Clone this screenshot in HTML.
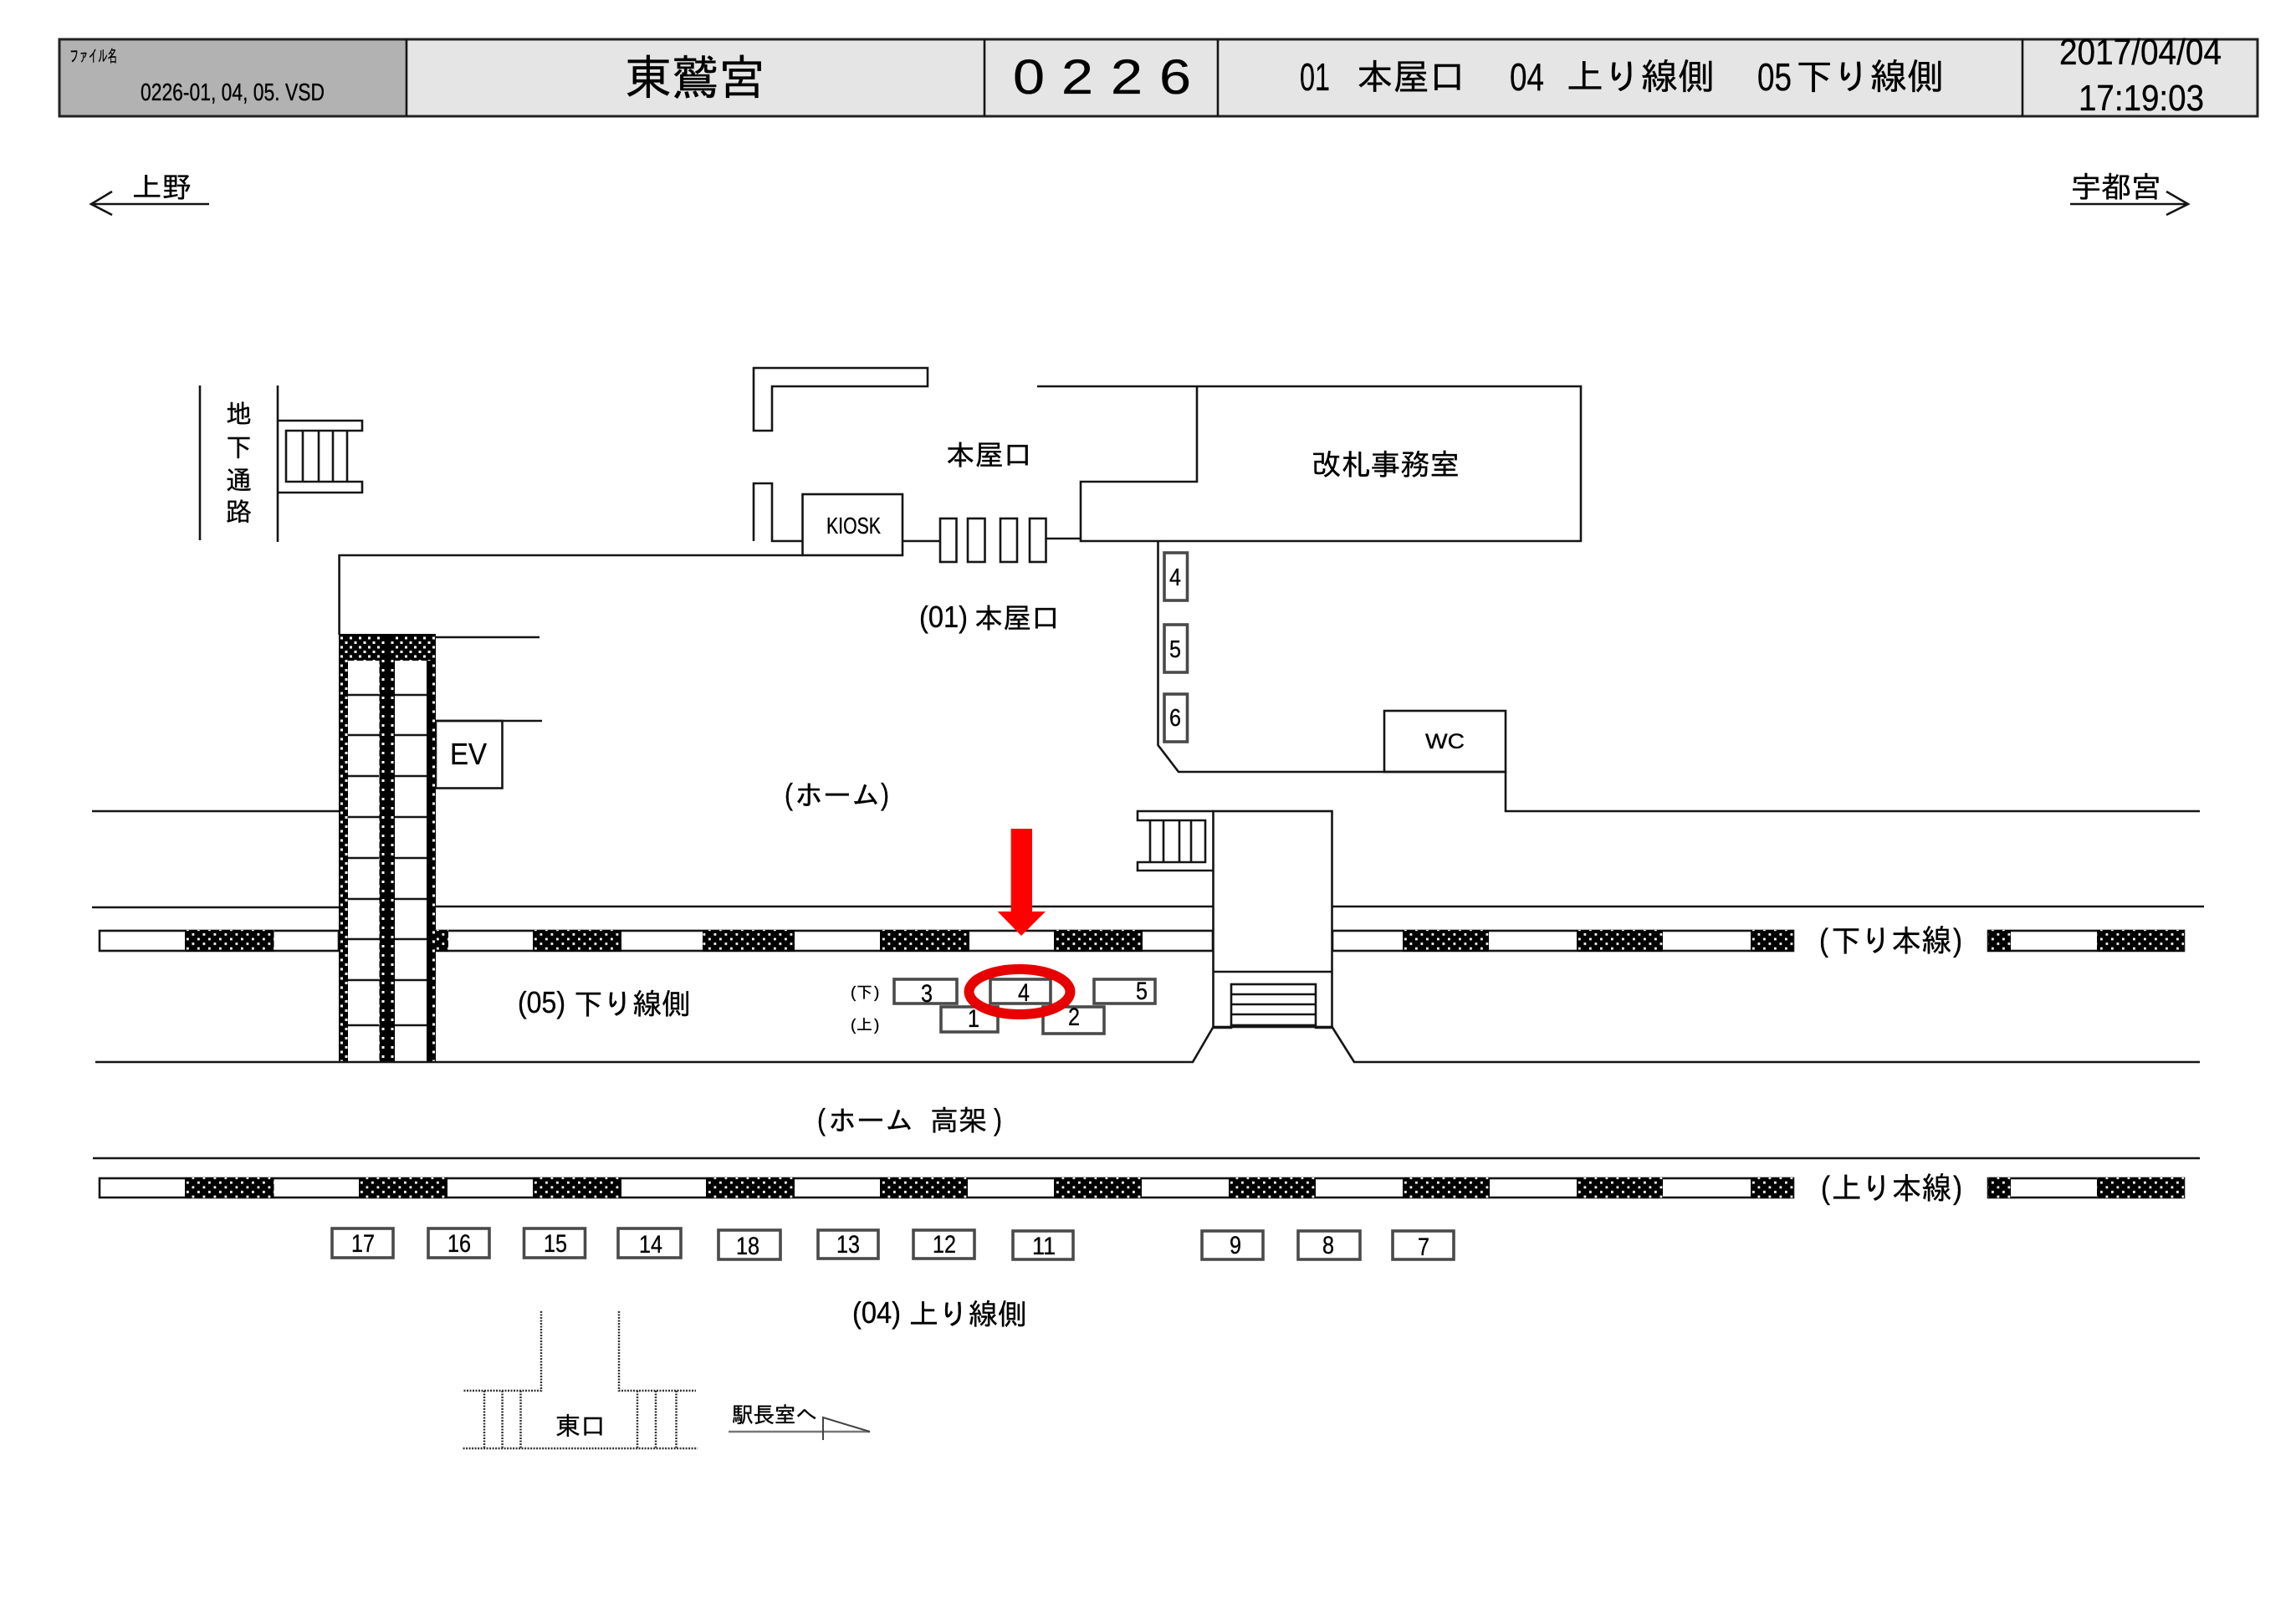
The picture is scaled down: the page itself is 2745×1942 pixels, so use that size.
<!DOCTYPE html>
<html lang="ja"><head><meta charset="utf-8"><title>東鷲宮</title>
<style>
html,body{margin:0;padding:0;background:#fff}
svg{display:block}
text{font-family:"Liberation Sans","IPAGothic","Noto Sans CJK JP",sans-serif;fill:#000;stroke:#000;stroke-width:.35}
.j{font-family:"IPAGothic","Noto Sans CJK JP",sans-serif}
.l{stroke:#151515;stroke-width:2.6;fill:none}
.b{stroke:#4a4a4a;stroke-width:3.6;fill:#fff}
.d{stroke:#333;stroke-width:2.5;stroke-dasharray:2 1.5;fill:none}
</style></head><body>
<svg xmlns="http://www.w3.org/2000/svg" width="2745" height="1942" viewBox="0 0 2745 1942">
<defs>
<pattern id="h" patternUnits="userSpaceOnUse" width="13" height="11.2"><rect width="13" height="11.2" fill="#000"/><rect x="2" y="1.6" width="2.8" height="2.8" fill="#fff"/><rect x="8.5" y="7.2" width="2.8" height="2.8" fill="#fff"/></pattern>
<pattern id="e" patternUnits="userSpaceOnUse" width="11" height="11" x="405" y="760"><rect width="11" height="11" fill="#000"/><rect x="2" y="1.5" width="3" height="3" fill="#fff"/><rect x="7.5" y="7" width="3" height="3" fill="#fff"/></pattern>
</defs>
<rect width="2745" height="1942" fill="#fff"/>

<!-- header -->
<rect x="71" y="47" width="415" height="92" fill="#b2b2b2"/>
<rect x="486" y="47" width="2213" height="92" fill="#e5e5e5"/>
<rect x="71" y="47" width="2628" height="92" fill="none" stroke="#222" stroke-width="3"/>
<path d="M486 47V139M1177 47V139M1456 47V139M2418 47V139" class="l"/>
<text class="j" x="83" y="74" font-size="20" textLength="57" lengthAdjust="spacingAndGlyphs">ファイル名</text>
<text x="168" y="120" font-size="29" textLength="220" lengthAdjust="spacingAndGlyphs">0226-01, 04, 05. VSD</text>
<text class="j" x="747" y="113" font-size="57" textLength="168" lengthAdjust="spacingAndGlyphs">東鷲宮</text>
<text x="1211" y="112" font-size="58" textLength="38" lengthAdjust="spacingAndGlyphs">0</text>
<text x="1269" y="112" font-size="58" textLength="38" lengthAdjust="spacingAndGlyphs">2</text>
<text x="1328" y="112" font-size="58" textLength="38" lengthAdjust="spacingAndGlyphs">2</text>
<text x="1386" y="112" font-size="58" textLength="38" lengthAdjust="spacingAndGlyphs">6</text>
<text x="1554" y="108" font-size="46" textLength="36" lengthAdjust="spacingAndGlyphs">01</text>
<text class="j" x="1622" y="107" font-size="43" textLength="130" lengthAdjust="spacingAndGlyphs">本屋口</text>
<text x="1805" y="108" font-size="46" textLength="41" lengthAdjust="spacingAndGlyphs">04</text>
<text class="j" x="1873" y="107" font-size="43" textLength="177" lengthAdjust="spacingAndGlyphs">上り線側</text>
<text x="2101" y="108" font-size="46" textLength="41" lengthAdjust="spacingAndGlyphs">05</text>
<text class="j" x="2147" y="107" font-size="43" textLength="177" lengthAdjust="spacingAndGlyphs">下り線側</text>
<text x="2462" y="77" font-size="44" textLength="194" lengthAdjust="spacingAndGlyphs">2017/04/04</text>
<text x="2485" y="132" font-size="44" textLength="150" lengthAdjust="spacingAndGlyphs">17:19:03</text>

<!-- direction arrows -->
<path d="M250 244H109M134 229L109 244L134 257" class="l"/>
<text class="j" x="158" y="236" font-size="34" textLength="71" lengthAdjust="spacingAndGlyphs">上野</text>
<path d="M2475 244H2616M2590 229L2616 244L2590 257" class="l"/>
<text class="j" x="2476" y="236" font-size="35" textLength="108" lengthAdjust="spacingAndGlyphs">宇都宮</text>

<!-- underground passage -->
<path d="M239 461V646M332 461V648" class="l"/>
<path d="M332 503H433V515H342V576H433V589H332" class="l"/>
<path d="M362 515V576M381 515V576M398 515V576M415 515V576" class="l"/>
<text class="j" x="270" y="506" font-size="31">地</text>
<text class="j" x="270" y="546" font-size="31">下</text>
<text class="j" x="270" y="585" font-size="31">通</text>
<text class="j" x="270" y="623" font-size="31">路</text>

<!-- entrance -->
<path d="M901 515V440H1109V462H923V515ZM901 647V578H923V647H960" class="l"/>
<path d="M405.600 759V664H960" class="l"/>
<rect x="959.500" y="591" width="119.500" height="73" class="l" fill="#fff"/>
<text x="988" y="638" font-size="28" textLength="65" lengthAdjust="spacingAndGlyphs">KIOSK</text>
<path d="M1079 647H1124M1250 644H1292" class="l"/>
<rect x="1124" y="620" width="19.500" height="52" class="l"/><rect x="1157" y="620" width="20.500" height="52" class="l"/><rect x="1196" y="620" width="20" height="52" class="l"/><rect x="1231" y="620" width="19.500" height="52" class="l"/>
<text class="j" x="1131" y="556" font-size="34" textLength="103" lengthAdjust="spacingAndGlyphs">本屋口</text>
<text x="1099" y="750" font-size="36" textLength="58" lengthAdjust="spacingAndGlyphs">(01)</text>
<text class="j" x="1165" y="751" font-size="34" textLength="102" lengthAdjust="spacingAndGlyphs">本屋口</text>

<!-- office -->
<path d="M1240 462H1890V647H1292V576H1431V462" class="l"/>
<text class="j" x="1568" y="568" font-size="35" textLength="177" lengthAdjust="spacingAndGlyphs">改札事務室</text>
<path d="M1384.500 647V891L1409 923H1800V970H2630" class="l"/>
<rect x="1655" y="850" width="145" height="73" class="l"/>
<text x="1704" y="895" font-size="25" textLength="47" lengthAdjust="spacingAndGlyphs">WC</text>
<rect x="1392" y="661" width="27.500" height="57" class="b"/><rect x="1392" y="747" width="27.500" height="57" class="b"/><rect x="1392" y="830" width="27.500" height="57" class="b"/>
<text x="1398" y="700" font-size="29" textLength="14" lengthAdjust="spacingAndGlyphs">4</text>
<text x="1398" y="786" font-size="29" textLength="14" lengthAdjust="spacingAndGlyphs">5</text>
<text x="1398" y="868" font-size="29" textLength="14" lengthAdjust="spacingAndGlyphs">6</text>

<!-- platform lines -->
<path d="M110 970H405M110 1085H405M521 1084H1450M1593 1084H2635M114 1270H405M521 1270H1426L1450.500 1228M1592.600 1228L1619 1270H2630M111 1385H2630" class="l"/>
<path d="M521 762H645M521 862H648" class="l"/>
<rect x="521" y="862" width="79.500" height="80.500" class="l"/>
<text x="538" y="914" font-size="36" textLength="44" lengthAdjust="spacingAndGlyphs">EV</text>
<text x="938" y="962" font-size="36" textLength="10" lengthAdjust="spacingAndGlyphs">(</text>
<text class="j" x="950" y="963" font-size="34" textLength="102" lengthAdjust="spacingAndGlyphs">ホーム</text>
<text x="1053" y="962" font-size="36" textLength="10" lengthAdjust="spacingAndGlyphs">)</text>

<!-- track 1 -->
<g>
<rect x="119" y="1113" width="286" height="24" class="l"/>
<rect x="521" y="1113" width="929" height="24" class="l"/>
<rect x="1593" y="1113" width="551" height="24" class="l"/>
<rect x="2377" y="1113" width="234" height="24" class="l"/>
<g fill="url(#h)"><rect x="221" y="1112" width="106.500" height="26"/><rect x="521" y="1112" width="15" height="26"/><rect x="1052" y="1112" width="107" height="26"/><rect x="840" y="1112" width="110" height="26"/><rect x="637" y="1112" width="106" height="26"/><rect x="1260" y="1112" width="106" height="26"/><rect x="1677" y="1112" width="103" height="26"/><rect x="1885" y="1112" width="103" height="26"/><rect x="2093" y="1112" width="51" height="26"/><rect x="2377" y="1112" width="27" height="26"/><rect x="2507" y="1112" width="104" height="26"/></g>
</g>
<text x="2175" y="1137" font-size="38" textLength="11" lengthAdjust="spacingAndGlyphs">(</text>
<text class="j" x="2189" y="1138" font-size="37" textLength="144" lengthAdjust="spacingAndGlyphs">下り本線</text>
<text x="2335" y="1137" font-size="38" textLength="11" lengthAdjust="spacingAndGlyphs">)</text>

<!-- track 2 -->
<rect x="119" y="1409" width="2025" height="23" class="l"/>
<rect x="2377" y="1409" width="234" height="23" class="l"/>
<g fill="url(#h)"><rect x="221" y="1408" width="106.500" height="25"/><rect x="429" y="1408" width="106" height="25"/><rect x="637" y="1408" width="106" height="25"/><rect x="844" y="1408" width="106" height="25"/><rect x="1052" y="1408" width="105" height="25"/><rect x="1260" y="1408" width="105" height="25"/><rect x="1469" y="1408" width="104" height="25"/><rect x="1677" y="1408" width="104" height="25"/><rect x="1885" y="1408" width="103" height="25"/><rect x="2093" y="1408" width="51" height="25"/><rect x="2377" y="1408" width="27" height="25"/><rect x="2507" y="1408" width="104" height="25"/></g>
<text x="2177" y="1433" font-size="38" textLength="11" lengthAdjust="spacingAndGlyphs">(</text>
<text class="j" x="2190" y="1434" font-size="37" textLength="143" lengthAdjust="spacingAndGlyphs">上り本線</text>
<text x="2335" y="1433" font-size="38" textLength="11" lengthAdjust="spacingAndGlyphs">)</text>

<!-- escalators -->
<rect x="405" y="760" width="116" height="510" fill="url(#e)"/>
<rect x="405" y="758" width="116" height="3.500" fill="#000"/>
<rect x="405" y="760" width="2" height="510" fill="#000"/>
<rect x="459.500" y="760" width="6.500" height="510" fill="#000"/>
<rect x="510" y="790" width="5" height="480" fill="#000"/>
<rect x="416" y="790" width="37.500" height="480" fill="#fff"/>
<rect x="472" y="790" width="38" height="480" fill="#fff"/>
<path d="M416 831H453.500M416 879H453.500M416 928H453.500M416 977H453.500M416 1026H453.500M416 1075H453.500M416 1123H453.500M416 1172H453.500M416 1226H453.500M472 831H510M472 879H510M472 928H510M472 977H510M472 1026H510M472 1075H510M472 1123H510M472 1172H510M472 1226H510M405 1270H521" class="l"/>

<!-- central stairs block -->
<rect x="1450.500" y="970" width="142" height="258" fill="#fff" stroke="#151515" stroke-width="2.600"/>
<path d="M1450.500 1162H1592.600" class="l"/>
<path d="M1450.500 970H1360V981H1441V1031H1360V1041H1450.500" class="l"/>
<path d="M1375 981V1031M1391 981V1031M1410 981V1031M1424 981V1031" class="l"/>
<rect x="1472" y="1177" width="101" height="49" class="l"/>
<path d="M1472 1189H1573M1472 1201H1573M1472 1213H1573M1472 1226V1229H1450M1573 1226V1229H1593" class="l"/>

<!-- platform boxes -->
<rect x="1069" y="1171" width="75" height="29" class="b"/>
<rect x="1184" y="1171" width="72" height="29" class="b"/>
<rect x="1308" y="1171" width="73" height="29" class="b"/>
<rect x="1125" y="1204" width="68" height="30" class="b"/>
<rect x="1247" y="1204" width="73" height="32" class="b"/>
<text x="1101" y="1198" font-size="30" textLength="14" lengthAdjust="spacingAndGlyphs">3</text>
<text x="1217" y="1197" font-size="30" textLength="14" lengthAdjust="spacingAndGlyphs">4</text>
<text x="1358" y="1195" font-size="30" textLength="14" lengthAdjust="spacingAndGlyphs">5</text>
<text x="1157" y="1228" font-size="30" textLength="14" lengthAdjust="spacingAndGlyphs">1</text>
<text x="1277" y="1226" font-size="30" textLength="14" lengthAdjust="spacingAndGlyphs">2</text>
<text x="1017" y="1193" font-size="19">(</text><text class="j" x="1024" y="1193" font-size="19">下</text><text x="1045" y="1193" font-size="19">)</text>
<text x="1017" y="1232" font-size="19">(</text><text class="j" x="1024" y="1232" font-size="19">上</text><text x="1045" y="1232" font-size="19">)</text>

<!-- platform labels -->
<text x="619" y="1211" font-size="36" textLength="57" lengthAdjust="spacingAndGlyphs">(05)</text>
<text class="j" x="686" y="1213" font-size="35" textLength="140" lengthAdjust="spacingAndGlyphs">下り線側</text>
<text x="977" y="1351" font-size="36" textLength="10" lengthAdjust="spacingAndGlyphs">(</text>
<text class="j" x="990" y="1352" font-size="34" textLength="102" lengthAdjust="spacingAndGlyphs">ホーム</text>
<text class="j" x="1112" y="1352" font-size="34" textLength="68" lengthAdjust="spacingAndGlyphs">高架</text>
<text x="1188" y="1351" font-size="36" textLength="10" lengthAdjust="spacingAndGlyphs">)</text>
<text x="1019" y="1582" font-size="36" textLength="58" lengthAdjust="spacingAndGlyphs">(04)</text>
<text class="j" x="1087" y="1584" font-size="35" textLength="141" lengthAdjust="spacingAndGlyphs">上り線側</text>

<!-- numbered boxes -->
<g>
<rect x="397" y="1469" width="73" height="35" class="b"/><rect x="512" y="1469" width="73" height="35" class="b"/><rect x="626.500" y="1469" width="73" height="35" class="b"/><rect x="739" y="1469" width="75" height="35" class="b"/><rect x="859" y="1471" width="74" height="35" class="b"/><rect x="978" y="1471" width="72" height="34" class="b"/><rect x="1092" y="1471" width="73" height="34" class="b"/><rect x="1211" y="1472" width="72" height="34" class="b"/><rect x="1437" y="1472" width="73" height="34" class="b"/><rect x="1552" y="1472" width="74" height="34" class="b"/><rect x="1665" y="1472" width="73" height="34" class="b"/>
</g>
<g font-size="30">
<text x="420" y="1497" textLength="28" lengthAdjust="spacingAndGlyphs">17</text>
<text x="535" y="1497" textLength="28" lengthAdjust="spacingAndGlyphs">16</text>
<text x="650" y="1497" textLength="28" lengthAdjust="spacingAndGlyphs">15</text>
<text x="764" y="1498" textLength="28" lengthAdjust="spacingAndGlyphs">14</text>
<text x="880" y="1500" textLength="28" lengthAdjust="spacingAndGlyphs">18</text>
<text x="1000" y="1498" textLength="28" lengthAdjust="spacingAndGlyphs">13</text>
<text x="1115" y="1498" textLength="28" lengthAdjust="spacingAndGlyphs">12</text>
<text x="1234" y="1500" textLength="28" lengthAdjust="spacingAndGlyphs">11</text>
<text x="1470" y="1499" textLength="14" lengthAdjust="spacingAndGlyphs">9</text>
<text x="1581" y="1499" textLength="14" lengthAdjust="spacingAndGlyphs">8</text>
<text x="1695" y="1501" textLength="14" lengthAdjust="spacingAndGlyphs">7</text>
</g>

<!-- east exit -->
<path d="M647 1568V1663H553.600M740 1568V1663H832M553.600 1732H834M579 1663V1732M600.600 1663V1732M622.500 1663V1732M762 1663V1732M784 1663V1732M808.500 1663V1732" class="d"/>
<text class="j" x="664" y="1716" font-size="30" textLength="60" lengthAdjust="spacingAndGlyphs">東口</text>
<text class="j" x="875" y="1701" font-size="26" textLength="102" lengthAdjust="spacingAndGlyphs">駅長室へ</text>
<path d="M871 1712H1040" stroke="#777" stroke-width="2.500" fill="none"/>
<path d="M984 1722V1695L1040 1712" stroke="#444" stroke-width="2" fill="none"/>

<!-- highlight -->
<ellipse cx="1219" cy="1186" rx="60.500" ry="27" fill="none" stroke="#e60000" stroke-width="12"/>
<path d="M1208.700 991H1234V1090H1250L1221 1119L1192.700 1090H1208.700Z" fill="#f00"/>
</svg>
</body></html>
